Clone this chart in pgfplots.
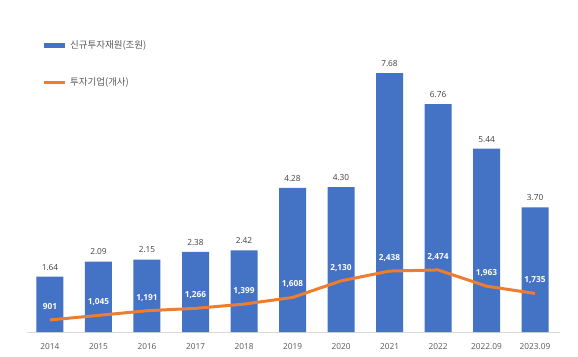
\documentclass[border=0pt]{standalone}
\usepackage{fontspec}
\setmainfont{Open Sans}
\newfontfamily\kr{Noto Sans CJK KR}
\usepackage{pgfplots}
\pgfplotsset{compat=1.18}
\definecolor{barblue}{HTML}{4472C4}
\definecolor{lineorange}{HTML}{ED7D31}
\definecolor{txt}{HTML}{404040}
\definecolor{lbl}{HTML}{595959}
\definecolor{axgray}{HTML}{D9D9D9}
\begin{document}
\begin{tikzpicture}
\path[use as bounding box] (0,0) rectangle (578pt,356pt);
\begin{axis}[
  at={(27pt,24pt)}, anchor=south west, scale only axis,
  width=533pt, height=322pt,
  xmin=-0.474, xmax=10.515, ymin=0, ymax=9.555,
  axis x line*=bottom, axis y line=none,
  x axis line style={axgray, line width=0.8pt, -},
  xtick={0,...,10},
  xticklabels={2014,2015,2016,2017,2018,2019,2020,2021,2022,2022.09,2023.09},
  tick style={draw=none},
  xticklabel style={font=\fontsize{8.3}{10}\selectfont, text=lbl, yshift=-8pt},
  legend style={at={(0.027,0.832)}, anchor=west, draw=none, fill=none,
    font=\kr\fontsize{9.5}{11}\selectfont, text=lbl, row sep=24pt, inner sep=0pt},
  legend cell align=left,
]
\addlegendimage{legend image code/.code={\draw[barblue, line width=5.5pt] (0pt,0pt) -- (21pt,0pt);}}
\addlegendentry{신규투자재원(조원)}
\addlegendimage{legend image code/.code={\draw[lineorange, line width=3pt] (0pt,0pt) -- (21pt,0pt);}}
\addlegendentry{투자기업(개사)}
\addplot[ybar, bar width=27pt, fill=barblue, draw=none,
  nodes near coords,
  nodes near coords style={font=\fontsize{8.3}{10}\selectfont, text=txt, yshift=3pt,
    /pgf/number format/.cd, fixed, fixed zerofill, precision=2, assume math mode=true}]
  coordinates {(0,1.64) (1,2.09) (2,2.15) (3,2.38) (4,2.42) (5,4.28) (6,4.30) (7,7.68) (8,6.76) (9,5.44) (10,3.70)};
\end{axis}
\begin{axis}[
  at={(27pt,24pt)}, anchor=south west, scale only axis,
  width=533pt, height=322pt,
  xmin=-0.474, xmax=10.515, ymin=522, ymax=10648,
  hide axis,
]
\addplot[lineorange, line width=3pt, line join=round, mark=none,
  nodes near coords,
  nodes near coords style={text=white, font=\bfseries\fontsize{8.3}{10}\selectfont, anchor=center, yshift=13pt,
    /pgf/number format/.cd, 1000 sep={,}, assume math mode=true}]
  coordinates {(0,901) (1,1045) (2,1191) (3,1266) (4,1399) (5,1608) (6,2130) (7,2438) (8,2474) (9,1963) (10,1735)};
\end{axis}
\end{tikzpicture}
\end{document}
